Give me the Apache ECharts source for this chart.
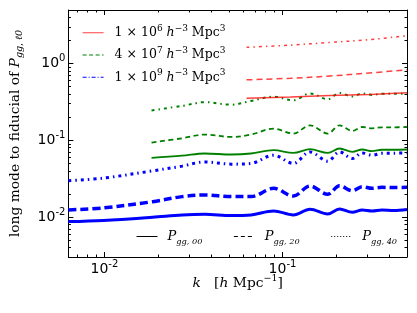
<!DOCTYPE html>
<html><head><meta charset="utf-8">
<script src="https://cdn.jsdelivr.net/npm/echarts@6/dist/echarts.min.js"></script>
<style>html,body{margin:0;padding:0;background:#fff}#c{width:417px;height:313px}</style>
</head><body><div id="c"></div>
<script>
// ---- data ----
const kV1e9 = [0.00628, 0.00987, 0.01865, 0.02732, 0.0366, 0.0516, 0.0666, 0.0891, 0.1150, 0.1428, 0.1795, 0.2090, 0.2466, 0.2805, 0.3185, 0.3614, 0.421, 0.5];
const p00V1e9 = [0.00869, 0.00901, 0.00991, 0.01062, 0.01084, 0.01040, 0.01062, 0.01197, 0.01062, 0.01259, 0.01094, 0.01271, 0.01151, 0.01233, 0.01197, 0.01233, 0.01214, 0.01251];
const p20V1e9 = [0.01233, 0.01309, 0.0158, 0.0184, 0.0193, 0.0184, 0.0184, 0.0236, 0.0187, 0.0253, 0.0197, 0.0255, 0.0220, 0.0248, 0.0236, 0.0243, 0.02415, 0.0243];
const p40V1e9 = [0.0296, 0.0321, 0.0399, 0.0460, 0.0522, 0.0488, 0.0498, 0.0638, 0.0498, 0.0705, 0.0533, 0.0705, 0.0578, 0.0684, 0.0638, 0.0678, 0.0678, 0.0684];

const kV4e7 = [0.0184, 0.02732, 0.0366, 0.0516, 0.0666, 0.0891, 0.1150, 0.1428, 0.1795, 0.2090, 0.2466, 0.2805, 0.3185, 0.3614, 0.421, 0.5];
const p00V4e7 = [0.0589, 0.0629, 0.0672, 0.0652, 0.0672, 0.0742, 0.0684, 0.0764, 0.0684, 0.0780, 0.0705, 0.0757, 0.0720, 0.0752, 0.0752, 0.0757];
const p20V4e7 = [0.0933, 0.1062, 0.1186, 0.1104, 0.1186, 0.1418, 0.1222, 0.1566, 0.1222, 0.1566, 0.1320, 0.1488, 0.1431, 0.1475, 0.1475, 0.1488];
const p40V4e7 = [0.245, 0.2806, 0.314, 0.291, 0.326, 0.3705, 0.331, 0.408, 0.3428, 0.414, 0.373, 0.408, 0.390, 0.404, 0.404, 0.404];

const kV1e6 = [0.0628, 0.1107, 0.1842, 0.3063, 0.5];
const p00V1e6 = [0.354, 0.367, 0.384, 0.396, 0.4164];
const p20V1e6 = [0.614, 0.644, 0.688, 0.753, 0.829];
const p40V1e6 = [1.63, 1.739, 1.890, 2.05, 2.31];

const xMajorTicks = [0.01, 0.1];
const xMinorTicks = [0.007, 0.008, 0.009, 0.02, 0.03, 0.04, 0.05, 0.06, 0.07, 0.08, 0.09, 0.2, 0.3, 0.4, 0.5];
const yMajorTicks = [0.01, 0.1, 1];
const yMinorTicks = [0.003, 0.004, 0.005, 0.006, 0.007, 0.008, 0.009, 0.02, 0.03, 0.04, 0.05, 0.06, 0.07, 0.08, 0.09, 0.2, 0.3, 0.4, 0.5, 0.6, 0.7, 0.8, 0.9, 2, 3, 4, 5];

const volumeLegend = ['V1e6', 'V4e7', 'V1e9'];
const volumeLabels = {
  V1e6: '{n|1 × 10}{sp|6}{it| h}{sp|−3}{n| Mpc}{sp|3}',
  V4e7: '{n|4 × 10}{sp|7}{it| h}{sp|−3}{n| Mpc}{sp|3}',
  V1e9: '{n|1 × 10}{sp|9}{it| h}{sp|−3}{n| Mpc}{sp|3}'
};
const multipoleLegend = ['P00', 'P20', 'P40'];
const multipoleLabels = {
  P00: '{it|P}{sb|gg, 00}',
  P20: '{it|P}{sb|gg, 20}',
  P40: '{it|P}{sb|gg, 40}'
};

// ---- styling ----
const SERIF = 'DejaVu Serif';
const SANS = 'DejaVu Sans';
const RED = 'rgba(255,0,0,0.75)', GREEN = '#008000', BLUE = '#0000ff';
const DASH40 = [3, 4, 1.5, 4];

function richSet(fs, ss) {
  return {
    n: {fontFamily: SERIF, fontSize: fs, color: '#000', lineHeight: fs + 5},
    it: {fontFamily: SERIF, fontSize: fs, fontStyle: 'italic', color: '#000', lineHeight: fs + 5},
    sp: {fontFamily: SERIF, fontSize: ss, color: '#000', verticalAlign: 'top', lineHeight: ss},
    sb: {fontFamily: SERIF, fontSize: ss, fontStyle: 'italic', color: '#000', verticalAlign: 'bottom', lineHeight: ss}
  };
}
const legendRich = richSet(12.5, 9);
const bottomLegendRich = richSet(13, 8.2);
const nameRich = richSet(13.8, 9.5);
const tickRich = {
  b: {fontFamily: SANS, fontSize: 14, color: '#000', lineHeight: 20},
  s: {fontFamily: SANS, fontSize: 10, color: '#000', verticalAlign: 'top', lineHeight: 10}
};
const powFmt = v => '{b|10}{s|' + Math.round(Math.log10(v)) + '}';

const XMIN = 0.00628, XMAX = 0.5, YMIN = 0.003, YMAX = 5;
function xAx(pos, major, main) {
  return {
    type: 'log', logBase: 10, min: XMIN, max: XMAX, position: pos,
    axisLine: {show: main, onZero: false, lineStyle: {color: '#000', width: 1}},
    axisTick: {show: true, inside: true, length: major ? 5 : 2.5, customValues: major ? xMajorTicks : xMinorTicks, lineStyle: {color: '#000', width: 1}},
    axisLabel: (pos === 'bottom' && major) ? {show: true, customValues: xMajorTicks, formatter: powFmt, rich: tickRich, margin: 2} : {show: false},
    minorTick: {show: false}, splitLine: {show: false},
    name: (pos === 'bottom' && major) ? '{it|k}{n|   [}{it|h}{n| Mpc}{sp|−1}{n|]}' : '',
    nameLocation: 'middle', nameGap: 17, nameMoveOverlap: false, nameTextStyle: {rich: nameRich}
  };
}
function yAx(pos, major, main) {
  return {
    type: 'log', logBase: 10, min: YMIN, max: YMAX, position: pos,
    axisLine: {show: main, onZero: false, lineStyle: {color: '#000', width: 1}},
    axisTick: {show: true, inside: true, length: major ? 5 : 2.5, customValues: major ? yMajorTicks : yMinorTicks, lineStyle: {color: '#000', width: 1}},
    axisLabel: (pos === 'left' && major) ? {show: true, customValues: yMajorTicks, formatter: powFmt, rich: tickRich, margin: 3} : {show: false},
    minorTick: {show: false}, splitLine: {show: false},
    name: (pos === 'left' && major) ? '{n|long mode to fiducial of }{it|P}{sb|gg, ℓ0}' : '',
    nameLocation: 'middle', nameGap: 44, nameRotate: 90, nameMoveOverlap: false, nameTextStyle: {rich: nameRich}
  };
}

function line(name, ks, vs, color, width, type, z) {
  return {
    name: name, type: 'line', xAxisIndex: 0, yAxisIndex: 0,
    data: ks.map((k, i) => [k, vs[i]]),
    symbol: 'none', smooth: 0.35, z: z,
    lineStyle: {color: color, width: width, type: type, cap: 'butt'}
  };
}
function legendOnly(name, color, width, type) {
  return {name: name, type: 'line', data: [], symbol: 'none', showSymbol: false,
    lineStyle: {color: color, width: width, type: type}, itemStyle: {color: color}};
}
const legendItem = (name, color, width, type) => ({name: name, lineStyle: {color: color, width: width, type: type}});

const option = {
  animation: false,
  backgroundColor: '#fff',
  grid: {left: 65, right: 10, top: 10, bottom: 56, containLabel: false},
  xAxis: [xAx('bottom', true, true), xAx('bottom', false, false), xAx('top', true, true), xAx('top', false, false)],
  yAxis: [yAx('left', true, true), yAx('left', false, false), yAx('right', true, true), yAx('right', false, false)],
  legend: [
    {
      data: [
        legendItem(volumeLegend[0], RED, 1, 'solid'),
        legendItem(volumeLegend[1], GREEN, 1.2, [4, 2.5]),
        legendItem(volumeLegend[2], BLUE, 1, [4, 2, 1, 2])
      ],
      orient: 'vertical', left: 77, top: 19,
      itemWidth: 21, itemHeight: 14, itemGap: 7, selectedMode: false,
      itemStyle: {opacity: 0},
      formatter: name => volumeLabels[name],
      textStyle: {rich: legendRich, padding: [0, 0, 0, 6]}
    },
    {
      data: [
        legendItem(multipoleLegend[0], '#000', 1, 'solid'),
        legendItem(multipoleLegend[1], '#000', 1, [4, 3]),
        legendItem(multipoleLegend[2], '#000', 1, [1, 2])
      ],
      orient: 'horizontal', left: 131, top: 225,
      itemWidth: 21, itemHeight: 14, itemGap: 31, selectedMode: false,
      itemStyle: {opacity: 0},
      formatter: name => multipoleLabels[name],
      textStyle: {rich: bottomLegendRich, padding: [0, 0, 0, 5]}
    }
  ],
  series: [
    legendOnly('V1e6', RED, 1, 'solid'),
    legendOnly('V4e7', GREEN, 1.2, [4, 2.5]),
    legendOnly('V1e9', BLUE, 1, [4, 2, 1, 2]),
    legendOnly('P00', '#000', 1, 'solid'),
    legendOnly('P20', '#000', 1, [4, 3]),
    legendOnly('P40', '#000', 1, [1, 2]),
    line('1e9 P00', kV1e9, p00V1e9, BLUE, 3, 'solid', 2),
    line('1e9 P20', kV1e9, p20V1e9, BLUE, 3.5, [8, 4], 2),
    line('1e9 P40', kV1e9, p40V1e9, BLUE, 3, DASH40, 2),
    line('4e7 P00', kV4e7, p00V4e7, GREEN, 1.8, 'solid', 3),
    line('4e7 P20', kV4e7, p20V4e7, GREEN, 1.8, [5, 3.5], 3),
    line('4e7 P40', kV4e7, p40V4e7, GREEN, 2, DASH40, 3),
    line('1e6 P00', kV1e6, p00V1e6, RED, 1.5, 'solid', 4),
    line('1e6 P20', kV1e6, p20V1e6, RED, 1.5, [6, 4], 4),
    line('1e6 P40', kV1e6, p40V1e6, RED, 1.5, DASH40, 4)
  ]
};
echarts.init(document.getElementById('c'), null, {renderer: 'canvas'}).setOption(option);
</script></body></html>
